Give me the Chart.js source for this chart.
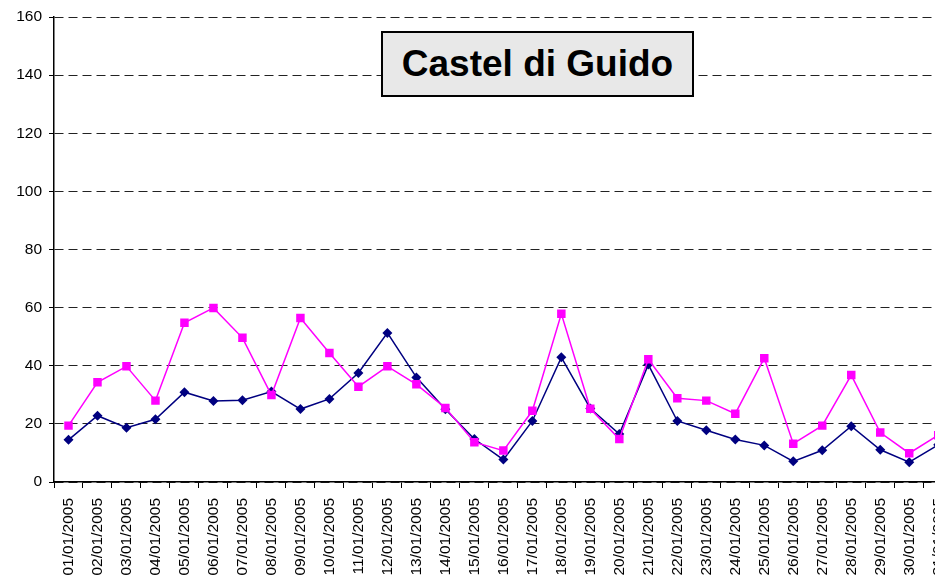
<!DOCTYPE html>
<html lang="it">
<head>
<meta charset="utf-8">
<title>Castel di Guido</title>
<script src="https://cdn.jsdelivr.net/npm/chart.js@4.4.1/dist/chart.umd.min.js"></script>
<style>
    html, body {
        margin: 0;
        padding: 0;
        background: #ffffff;
        overflow: hidden;
        width: 935px;
        height: 576px;
    }
    .contenedor {
        position: relative;
        width: 967px;
        height: 576px;
    }
    .titulo {
        position: absolute;
        left: 381px;
        top: 31px;
        width: 309px;
        height: 62px;
        border: 2px solid #000000;
        background: #e8e8e8;
        font-family: "Liberation Sans", Arial, sans-serif;
        font-weight: bold;
        font-size: 37px;
        line-height: 62px;
        text-align: center;
        color: #000000;
    }
</style>
</head>
<body>
<div class="contenedor">
    <canvas id="graficoCastel" width="967" height="576"></canvas>
    <div class="titulo">Castel di Guido</div>
</div>

<script>
// dati
const giorni = [
    '01/01/2005', '02/01/2005', '03/01/2005', '04/01/2005', '05/01/2005', '06/01/2005',
    '07/01/2005', '08/01/2005', '09/01/2005', '10/01/2005', '11/01/2005', '12/01/2005',
    '13/01/2005', '14/01/2005', '15/01/2005', '16/01/2005', '17/01/2005', '18/01/2005',
    '19/01/2005', '20/01/2005', '21/01/2005', '22/01/2005', '23/01/2005', '24/01/2005',
    '25/01/2005', '26/01/2005', '27/01/2005', '28/01/2005', '29/01/2005', '30/01/2005',
    '31/01/2005'
];

const serieBlu = [
    14.5, 22.8, 18.7, 21.6, 30.9, 27.9, 28.1, 31.1, 25.1, 28.6, 37.5, 51.3,
    36.0, 25.0, 14.8, 7.7, 21.0, 42.9, 25.3, 16.5, 40.4, 21.0, 17.8, 14.6,
    12.6, 7.1, 10.9, 19.2, 11.1, 6.8, 12.8
];

const serieMagenta = [
    19.4, 34.3, 39.8, 28.0, 54.8, 59.9, 49.6, 29.9, 56.4, 44.4, 32.8, 39.8,
    33.6, 25.5, 13.7, 10.8, 24.5, 57.9, 25.2, 14.8, 42.2, 28.8, 28.0, 23.5,
    42.6, 13.2, 19.4, 36.8, 17.0, 9.9, 16.1
];

const tickY = [0, 20, 40, 60, 80, 100, 120, 140, 160];

document.addEventListener("DOMContentLoaded", function () {

    const ctx = document.getElementById('graficoCastel');

    Chart.defaults.font.family = '"Liberation Sans", Arial, sans-serif';
    Chart.defaults.color = '#000000';

    new Chart(ctx, {
        type: 'line',
        data: {
            labels: giorni,
            datasets: [{
                label: 'Serie 2',
                data: serieMagenta,
                borderColor: '#ff00ff',
                backgroundColor: '#ff00ff',
                borderWidth: 1.5,
                pointStyle: 'rect',
                pointRadius: 6,
                pointBorderWidth: 0,
                tension: 0
            }, {
                label: 'Serie 1',
                data: serieBlu,
                borderColor: '#000080',
                backgroundColor: '#000080',
                borderWidth: 1.5,
                pointStyle: 'rectRot',
                pointRadius: 5,
                pointBorderWidth: 0,
                tension: 0
            }]
        },
        options: {
            responsive: false,
            animation: false,
            events: [],
            layout: {
                padding: { top: 17, left: 0, right: 11, bottom: 0 }
            },
            plugins: {
                legend: { display: false },
                tooltip: { enabled: false }
            },
            scales: {
                x: {
                    offset: true,
                    grid: {
                        offset: true,
                        drawOnChartArea: false,
                        drawTicks: true,
                        tickLength: 6,
                        tickColor: '#000000',
                        tickWidth: 1
                    },
                    border: { color: '#000000', width: 1.5 },
                    ticks: {
                        minRotation: 90,
                        maxRotation: 90,
                        autoSkip: false,
                        padding: 10,
                        font: { size: 15.5 }
                    },
                    afterFit: function (scale) {
                        scale.height = 94;
                    }
                },
                y: {
                    min: 0,
                    max: 160,
                    afterBuildTicks: function (scale) {
                        scale.ticks = tickY.map(v => ({ value: v }));
                    },
                    grid: {
                        color: '#222222',
                        lineWidth: 1,
                        drawTicks: true,
                        tickLength: 5,
                        tickColor: '#000000',
                        tickBorderDash: []
                    },
                    border: { color: '#000000', width: 1.5, dash: [9, 5] },
                    ticks: {
                        padding: 7,
                        font: { size: 15.5 }
                    },
                    afterFit: function (scale) {
                        scale.width = 54;
                    }
                }
            }
        }
    });

});
</script>
</body>
</html>
